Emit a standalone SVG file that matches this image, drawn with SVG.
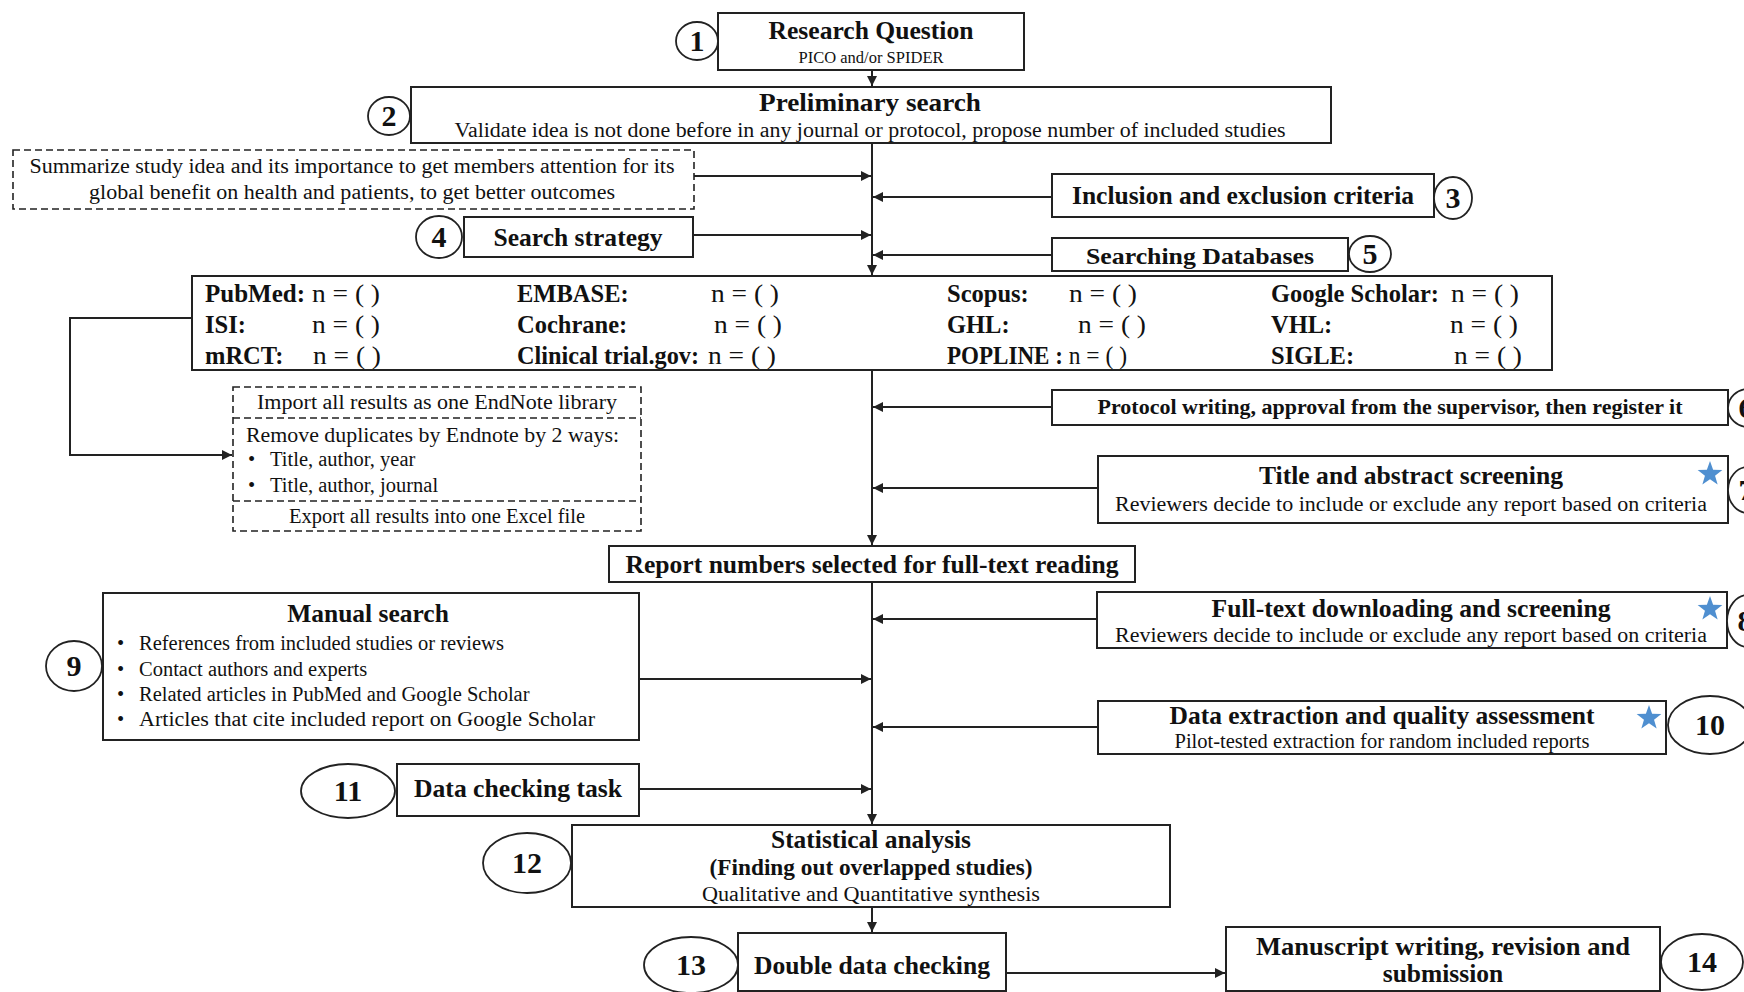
<svg xmlns="http://www.w3.org/2000/svg" xmlns:xlink="http://www.w3.org/1999/xlink" width="1744" height="992" viewBox="0 0 1744 992">
<style>
text{font-family:"Liberation Serif","Times New Roman",serif;fill:#111}
.b{font-weight:bold}
.t{font-size:25.5px;font-weight:bold;text-anchor:middle}
.r{font-size:20.5px}
.rc{font-size:20.5px;text-anchor:middle}
.num{font-size:30px;font-weight:bold;text-anchor:middle}
.db{font-size:24.5px;font-weight:bold}
.dn{font-size:25px;font-weight:normal}
.box{fill:#fff;stroke:#222;stroke-width:2}
.dash{fill:#fff;stroke:#222;stroke-width:1.6;stroke-dasharray:7 4}
.circ{fill:#fff;stroke:#222;stroke-width:1.8}
.ln{fill:none;stroke:#222;stroke-width:2}
.dl{fill:none;stroke:#222;stroke-width:1.6;stroke-dasharray:7 4}
.star{fill:#4f8fd0}
</style>
<defs>
<marker id="ah" markerUnits="userSpaceOnUse" markerWidth="11" markerHeight="10" refX="10" refY="5" orient="auto">
<path d="M0,0 L10,5 L0,10 z" fill="#222"/>
</marker>
<polygon id="star" class="star" points="0,-13 3.12,-4.29 12.36,-4.02 5.04,1.64 7.64,10.52 0,5.3 -7.64,10.52 -5.04,1.64 -12.36,-4.02 -3.12,-4.29"/>
</defs>
<rect width="1744" height="992" fill="#fff"/>

<g id="connectors">
<path class="ln" d="M872,70 V86" marker-end="url(#ah)"/>
<path class="ln" d="M872,143 V275" marker-end="url(#ah)"/>
<path class="ln" d="M872,370 V545" marker-end="url(#ah)"/>
<path class="ln" d="M872,582 V824" marker-end="url(#ah)"/>
<path class="ln" d="M872,907 V932" marker-end="url(#ah)"/>
<path class="ln" d="M694,176 H871" marker-end="url(#ah)"/>
<path class="ln" d="M1052,197 H873" marker-end="url(#ah)"/>
<path class="ln" d="M693,235 H871" marker-end="url(#ah)"/>
<path class="ln" d="M1052,255 H873" marker-end="url(#ah)"/>
<path class="ln" d="M192,318 H70 V455 H232" marker-end="url(#ah)"/>
<path class="ln" d="M1052,407 H873" marker-end="url(#ah)"/>
<path class="ln" d="M1098,488 H873" marker-end="url(#ah)"/>
<path class="ln" d="M1097,619 H873" marker-end="url(#ah)"/>
<path class="ln" d="M639,679 H871" marker-end="url(#ah)"/>
<path class="ln" d="M1097,727 H873" marker-end="url(#ah)"/>
<path class="ln" d="M639,789 H871" marker-end="url(#ah)"/>
<path class="ln" d="M1006,973 H1225" marker-end="url(#ah)"/>
</g>

<g id="n1">
<rect class="box" x="718" y="13" width="306" height="57"/>
<text class="t" x="871" y="39" textLength="205" lengthAdjust="spacingAndGlyphs">Research Question</text>
<text x="871" y="63" style="font-size:16.5px;text-anchor:middle" textLength="145" lengthAdjust="spacingAndGlyphs">PICO and/or SPIDER</text>
<ellipse class="circ" cx="697" cy="41" rx="21" ry="19"/>
<text class="num" x="697" y="51">1</text>
</g>

<g id="n2">
<rect class="box" x="411" y="87" width="920" height="56"/>
<text class="t" x="870" y="111" textLength="222" lengthAdjust="spacingAndGlyphs">Preliminary search</text>
<text class="rc" x="870" y="137" textLength="831" lengthAdjust="spacingAndGlyphs">Validate idea is not done before in any journal or protocol, propose number of included studies</text>
<ellipse class="circ" cx="389" cy="116" rx="21" ry="19"/>
<text class="num" x="389" y="126">2</text>
</g>

<g id="summary">
<rect class="dash" x="13" y="150" width="681" height="59"/>
<text class="rc" x="352" y="173" textLength="645" lengthAdjust="spacingAndGlyphs">Summarize study idea and its importance to get members attention for its</text>
<text class="rc" x="352" y="199" textLength="526" lengthAdjust="spacingAndGlyphs">global benefit on health and patients, to get better outcomes</text>
</g>

<g id="n3">
<rect class="box" x="1052" y="174" width="382" height="43"/>
<text class="t" x="1243" y="204" textLength="342" lengthAdjust="spacingAndGlyphs">Inclusion and exclusion criteria</text>
<ellipse class="circ" cx="1453" cy="198" rx="19" ry="21"/>
<text class="num" x="1453" y="208">3</text>
</g>

<g id="n4">
<rect class="box" x="464" y="217" width="229" height="40"/>
<text class="t" x="578" y="246" textLength="169" lengthAdjust="spacingAndGlyphs">Search strategy</text>
<ellipse class="circ" cx="439" cy="237" rx="23" ry="21"/>
<text class="num" x="439" y="247">4</text>
</g>

<g id="n5">
<rect class="box" x="1052" y="238" width="296" height="33"/>
<text class="t" x="1200" y="264" style="font-size:24px" textLength="228" lengthAdjust="spacingAndGlyphs">Searching Databases</text>
<ellipse class="circ" cx="1370" cy="254" rx="21" ry="18"/>
<text class="num" x="1370" y="264">5</text>
</g>

<g id="databases">
<rect class="box" x="192" y="276" width="1360" height="94"/>
<text class="db" x="205" y="302" textLength="100" lengthAdjust="spacingAndGlyphs">PubMed:</text>
<text class="dn" x="312" y="302" textLength="68" lengthAdjust="spacingAndGlyphs">n = ( )</text>
<text class="db" x="205" y="333">ISI:</text>
<text class="dn" x="312" y="333" textLength="68" lengthAdjust="spacingAndGlyphs">n = ( )</text>
<text class="db" x="205" y="364">mRCT:</text>
<text class="dn" x="313" y="364" textLength="68" lengthAdjust="spacingAndGlyphs">n = ( )</text>
<text class="db" x="517" y="302">EMBASE:</text>
<text class="dn" x="711" y="302" textLength="68" lengthAdjust="spacingAndGlyphs">n = ( )</text>
<text class="db" x="517" y="333">Cochrane:</text>
<text class="dn" x="714" y="333" textLength="68" lengthAdjust="spacingAndGlyphs">n = ( )</text>
<text class="db" x="517" y="364" textLength="182" lengthAdjust="spacingAndGlyphs">Clinical trial.gov:</text>
<text class="dn" x="708" y="364" textLength="68" lengthAdjust="spacingAndGlyphs">n = ( )</text>
<text class="db" x="947" y="302">Scopus:</text>
<text class="dn" x="1069" y="302" textLength="68" lengthAdjust="spacingAndGlyphs">n = ( )</text>
<text class="db" x="947" y="333">GHL:</text>
<text class="dn" x="1078" y="333" textLength="68" lengthAdjust="spacingAndGlyphs">n = ( )</text>
<text class="db" x="947" y="364" textLength="180" lengthAdjust="spacingAndGlyphs">POPLINE : <tspan class="dn">n = ( )</tspan></text>
<text class="db" x="1271" y="302" textLength="168" lengthAdjust="spacingAndGlyphs">Google Scholar:</text>
<text class="dn" x="1451" y="302" textLength="68" lengthAdjust="spacingAndGlyphs">n = ( )</text>
<text class="db" x="1271" y="333">VHL:</text>
<text class="dn" x="1450" y="333" textLength="68" lengthAdjust="spacingAndGlyphs">n = ( )</text>
<text class="db" x="1271" y="364">SIGLE:</text>
<text class="dn" x="1454" y="364" textLength="68" lengthAdjust="spacingAndGlyphs">n = ( )</text>
</g>

<g id="endnote">
<rect class="dash" x="233" y="387" width="408" height="144"/>
<path class="dl" d="M233,418 H641 M233,501 H641"/>
<text class="rc" x="437" y="409" textLength="360" lengthAdjust="spacingAndGlyphs">Import all results as one EndNote library</text>
<text class="r" x="246" y="442" textLength="373" lengthAdjust="spacingAndGlyphs">Remove duplicates by Endnote by 2 ways:</text>
<text class="r" x="248" y="466">•</text>
<text class="r" x="270" y="466">Title, author, year</text>
<text class="r" x="248" y="492">•</text>
<text class="r" x="270" y="492">Title, author, journal</text>
<text class="rc" x="437" y="523">Export all results into one Excel file</text>
</g>

<g id="n6">
<rect class="box" x="1052" y="390" width="676" height="35"/>
<text class="b" x="1390" y="414" style="font-size:20.5px;text-anchor:middle" textLength="585" lengthAdjust="spacingAndGlyphs">Protocol writing, approval from the supervisor, then register it</text>
<ellipse class="circ" cx="1748" cy="408" rx="20" ry="19"/>
<text class="num" x="1746" y="418">6</text>
</g>

<g id="n7">
<rect class="box" x="1098" y="456" width="630" height="67"/>
<text class="t" x="1411" y="484" textLength="304" lengthAdjust="spacingAndGlyphs">Title and abstract screening</text>
<text class="rc" x="1411" y="511" textLength="592" lengthAdjust="spacingAndGlyphs">Reviewers decide to include or exclude any report based on criteria</text>
<use xlink:href="#star" x="1710" y="474"/>
<ellipse class="circ" cx="1748" cy="490" rx="20" ry="23"/>
<text class="num" x="1746" y="500">7</text>
</g>

<g id="report">
<rect class="box" x="609" y="546" width="526" height="36"/>
<text class="t" x="872" y="573" style="font-size:24.5px" textLength="493" lengthAdjust="spacingAndGlyphs">Report numbers selected for full-text reading</text>
</g>

<g id="n8">
<rect class="box" x="1097" y="592" width="630" height="56"/>
<text class="t" x="1411" y="617" textLength="399" lengthAdjust="spacingAndGlyphs">Full-text downloading and screening</text>
<text class="rc" x="1411" y="642" textLength="592" lengthAdjust="spacingAndGlyphs">Reviewers decide to include or exclude any report based on criteria</text>
<use xlink:href="#star" x="1710" y="609"/>
<ellipse class="circ" cx="1748" cy="621" rx="21" ry="26"/>
<text class="num" x="1745" y="631">8</text>
</g>

<g id="n9">
<rect class="box" x="103" y="593" width="536" height="147"/>
<text class="t" x="368" y="622">Manual search</text>
<text class="r" x="117" y="650">•</text>
<text class="r" x="139" y="650">References from included studies or reviews</text>
<text class="r" x="117" y="676">•</text>
<text class="r" x="139" y="676">Contact authors and experts</text>
<text class="r" x="117" y="701">•</text>
<text class="r" x="139" y="701">Related articles in PubMed and Google Scholar</text>
<text class="r" x="117" y="726">•</text>
<text class="r" x="139" y="726" textLength="456" lengthAdjust="spacingAndGlyphs">Articles that cite included report on Google Scholar</text>
<ellipse class="circ" cx="74" cy="666" rx="28" ry="25"/>
<text class="num" x="74" y="676">9</text>
</g>

<g id="n10">
<rect class="box" x="1098" y="701" width="568" height="53"/>
<text class="t" x="1382" y="724">Data extraction and quality assessment</text>
<text class="rc" x="1382" y="748">Pilot-tested extraction for random included reports</text>
<use xlink:href="#star" x="1649" y="718"/>
<ellipse class="circ" cx="1710" cy="725" rx="42" ry="29"/>
<text class="num" x="1710" y="735">10</text>
</g>

<g id="n11">
<rect class="box" x="397" y="764" width="242" height="52"/>
<text class="t" x="518" y="797" textLength="208" lengthAdjust="spacingAndGlyphs">Data checking task</text>
<ellipse class="circ" cx="348" cy="791" rx="47" ry="27"/>
<text class="num" x="348" y="801">11</text>
</g>

<g id="n12">
<rect class="box" x="572" y="825" width="598" height="82"/>
<text class="t" x="871" y="848" textLength="200" lengthAdjust="spacingAndGlyphs">Statistical analysis</text>
<text class="t" x="871" y="875" style="font-size:22.5px" textLength="323" lengthAdjust="spacingAndGlyphs">(Finding out overlapped studies)</text>
<text class="rc" x="871" y="901" textLength="338" lengthAdjust="spacingAndGlyphs">Qualitative and Quantitative synthesis</text>
<ellipse class="circ" cx="527" cy="863" rx="44" ry="30"/>
<text class="num" x="527" y="873">12</text>
</g>

<g id="n13">
<rect class="box" x="738" y="933" width="268" height="58"/>
<text class="t" x="872" y="974" textLength="236" lengthAdjust="spacingAndGlyphs">Double data checking</text>
<ellipse class="circ" cx="691" cy="965" rx="47" ry="28"/>
<text class="num" x="691" y="975">13</text>
</g>

<g id="n14">
<rect class="box" x="1226" y="927" width="434" height="64"/>
<text class="t" x="1443" y="955" textLength="374" lengthAdjust="spacingAndGlyphs">Manuscript writing, revision and</text>
<text class="t" x="1443" y="982">submission</text>
<ellipse class="circ" cx="1702" cy="962" rx="41" ry="28"/>
<text class="num" x="1702" y="972">14</text>
</g>
</svg>
